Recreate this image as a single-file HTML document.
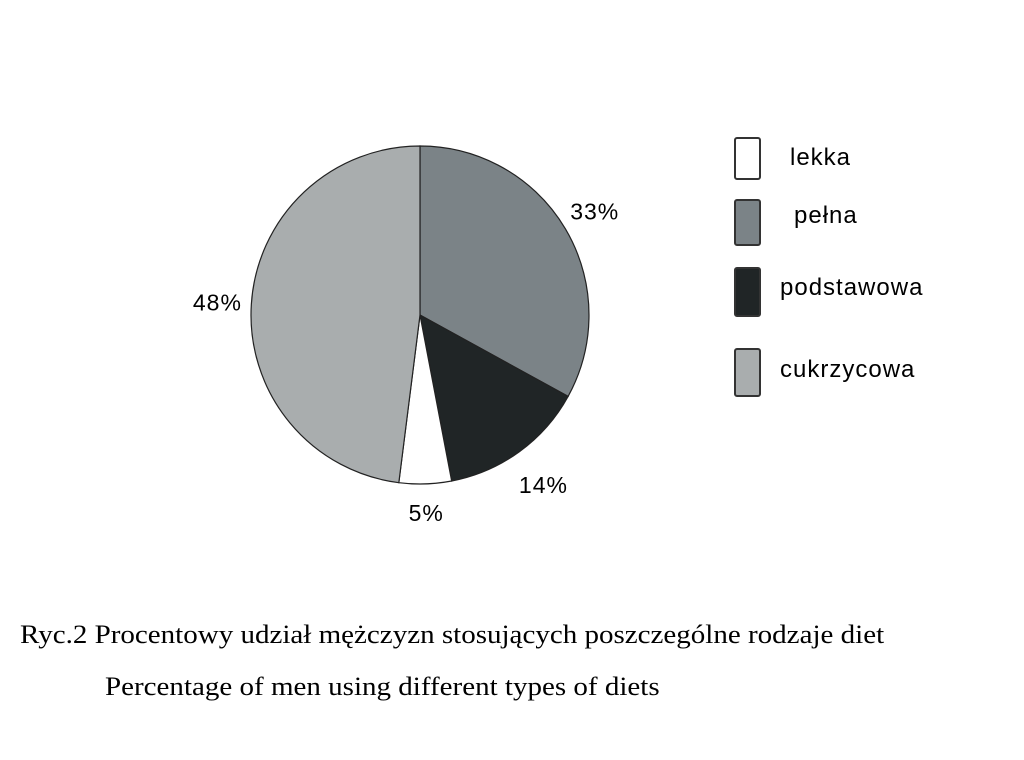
<!DOCTYPE html>
<html><head><meta charset="utf-8"><style>
body{margin:0;background:#fff;width:1024px;height:760px;overflow:hidden;position:relative}
.cap{position:absolute;font-family:"Liberation Serif",serif;font-size:26px;color:#000;white-space:nowrap;transform-origin:0 0;transform:scaleX(1.116)}
</style></head><body>
<svg id="chart" width="1024" height="600" style="position:absolute;left:0;top:0" font-family="Liberation Sans, sans-serif"></svg>
<div class="cap" style="left:20px;top:620px">Ryc.2 Procentowy udział mężczyzn stosujących poszczególne rodzaje diet</div>
<div class="cap" style="left:105px;top:672px">Percentage of men using different types of diets</div>
<script>
const sliceNames=["pełna","podstawowa","lekka","cukrzycowa"];
const sliceValues=[33,14,5,48];
const legendNames=["lekka","pełna","podstawowa","cukrzycowa"];
const colors={"lekka":"#ffffff","pełna":"#7b8387","podstawowa":"#202526","cukrzycowa":"#a9adae"};
const NS="http://www.w3.org/2000/svg";
const svg=document.getElementById('chart');
const cx=420,cy=315,r=169;
const total=sliceValues.reduce((a,b)=>a+b,0);
function pt(a,rr){return [cx+rr*Math.sin(a),cy-rr*Math.cos(a)];}
let acc=0;
const labelR=[203,210,198,203];
sliceValues.forEach((v,i)=>{
  const a0=acc/total*2*Math.PI;acc+=v;const a1=acc/total*2*Math.PI;
  const p0=pt(a0,r),p1=pt(a1,r);
  const p=document.createElementNS(NS,'path');
  p.setAttribute('d',`M${cx},${cy}L${p0[0]},${p0[1]}A${r},${r} 0 ${a1-a0>Math.PI?1:0} 1 ${p1[0]},${p1[1]}Z`);
  p.setAttribute('fill',colors[sliceNames[i]]);
  p.setAttribute('stroke','#222');p.setAttribute('stroke-width','1.2');
  
  
  svg.appendChild(p);
  const am=(a0+a1)/2;const lp=pt(am,labelR[i]);
  const t=document.createElementNS(NS,'text');
  t.setAttribute('x',lp[0]);t.setAttribute('y',lp[1]+8);
  t.setAttribute('text-anchor','middle');t.setAttribute('font-size','23');
  t.setAttribute('letter-spacing','1');
  t.textContent=v+'%';
  
  
  svg.appendChild(t);
});
const boxY=[138,200,268,349],boxH=[41,45,48,47],textX=[790,794,780,780],textY=[165,223,295,377];
legendNames.forEach((n,i)=>{
  const g=document.createElementNS(NS,'g');
  
  
  const b=document.createElementNS(NS,'rect');
  b.setAttribute('x',735);b.setAttribute('y',boxY[i]);b.setAttribute('width',25);b.setAttribute('height',boxH[i]);
  b.setAttribute('rx',2);b.setAttribute('fill',colors[n]);b.setAttribute('stroke','#333');b.setAttribute('stroke-width','2');
  g.appendChild(b);
  const t=document.createElementNS(NS,'text');
  t.setAttribute('x',textX[i]);t.setAttribute('y',textY[i]);t.setAttribute('font-size','24');
  t.setAttribute('letter-spacing','1');
  t.textContent=n;g.appendChild(t);
  svg.appendChild(g);
});
</script>
</body></html>
